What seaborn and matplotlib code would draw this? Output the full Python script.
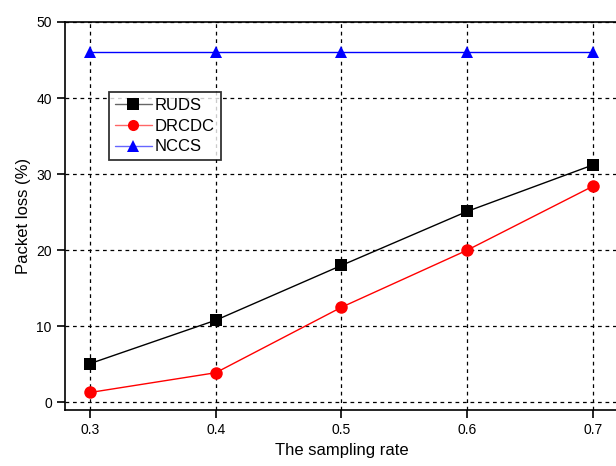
import numpy as np
import pandas as pd
import matplotlib
matplotlib.use("Agg")
import matplotlib.pyplot as plt
import matplotlib.colors as mcolors
import seaborn as sns

sampling_rate = [0.3, 0.4, 0.5, 0.6, 0.7]
ruds = [5.1, 10.8, 18.0, 25.1, 31.2]
drcdc = [1.3, 3.9, 12.5, 20.0, 28.4]
nccs = [46.0, 46.0, 46.0, 46.0, 46.0]
series_names = ["RUDS", "DRCDC", "NCCS"]
x_ticks = [0.3, 0.4, 0.5, 0.6, 0.7]
y_ticks = [0, 10, 20, 30, 40, 50]

sns.set_style("ticks")
plt.rcParams['font.family'] = ['Liberation Sans', 'DejaVu Sans']
plt.rcParams['text.color'] = 'black'
plt.rcParams['axes.labelcolor'] = 'black'

df = pd.DataFrame({
    "rate": sampling_rate * 3,
    "loss": ruds + drcdc + nccs,
    "method": [n for n in series_names for _ in sampling_rate],
})

fig = plt.figure(figsize=(6.16, 4.66), dpi=100)
ax = fig.add_axes([0.1055, 0.1202, 0.8975, 0.8326])

palette = {"RUDS": "black", "DRCDC": "red", "NCCS": "blue"}
markers = {"RUDS": "s", "DRCDC": "o", "NCCS": "^"}
sns.lineplot(data=df, x="rate", y="loss", hue="method", style="method",
             palette=palette, markers=markers, dashes=False, ax=ax,
             markersize=9, linewidth=1, markeredgewidth=0, legend=True)

ax.set_xlim(0.28, 0.72)
ax.set_ylim(-1, 50)
ax.set_xticks(x_ticks)
ax.set_xticklabels([f"{v:.1f}" for v in x_ticks])
ax.set_yticks(y_ticks)
ax.grid(True, color="black", linestyle=(0, (3, 3)), linewidth=0.9)
ax.set_axisbelow(True)
for s in ax.spines.values():
    s.set_linewidth(1.2)
    s.set_color("black")
ax.tick_params(direction="out", length=6, width=1.2, labelsize=10,
               colors="black", labelcolor="black")
ax.set_xlabel("The sampling rate", fontsize=12, color="black")
ax.set_ylabel("Packet loss (%)", fontsize=12, color="black")

leg = ax.legend(loc="upper left", bbox_to_anchor=(0.08, 0.82), frameon=True,
                fancybox=False, edgecolor="black", fontsize=12,
                handlelength=2.2, handletextpad=0.2, borderpad=0.35,
                labelspacing=0.35, borderaxespad=0, labelcolor="black")
leg.get_frame().set_linewidth(1.3)
for h, name in zip(leg.get_lines(), series_names):
    base = palette[name]
    rgb = np.array(mcolors.to_rgb(base))
    light = 1 - (1 - rgb) * 0.6
    h.set_color(light)
    h.set_markerfacecolor(base)
    h.set_markeredgecolor(base)
    h.set_markersize(8)

fig.savefig("out.png", dpi=100)
